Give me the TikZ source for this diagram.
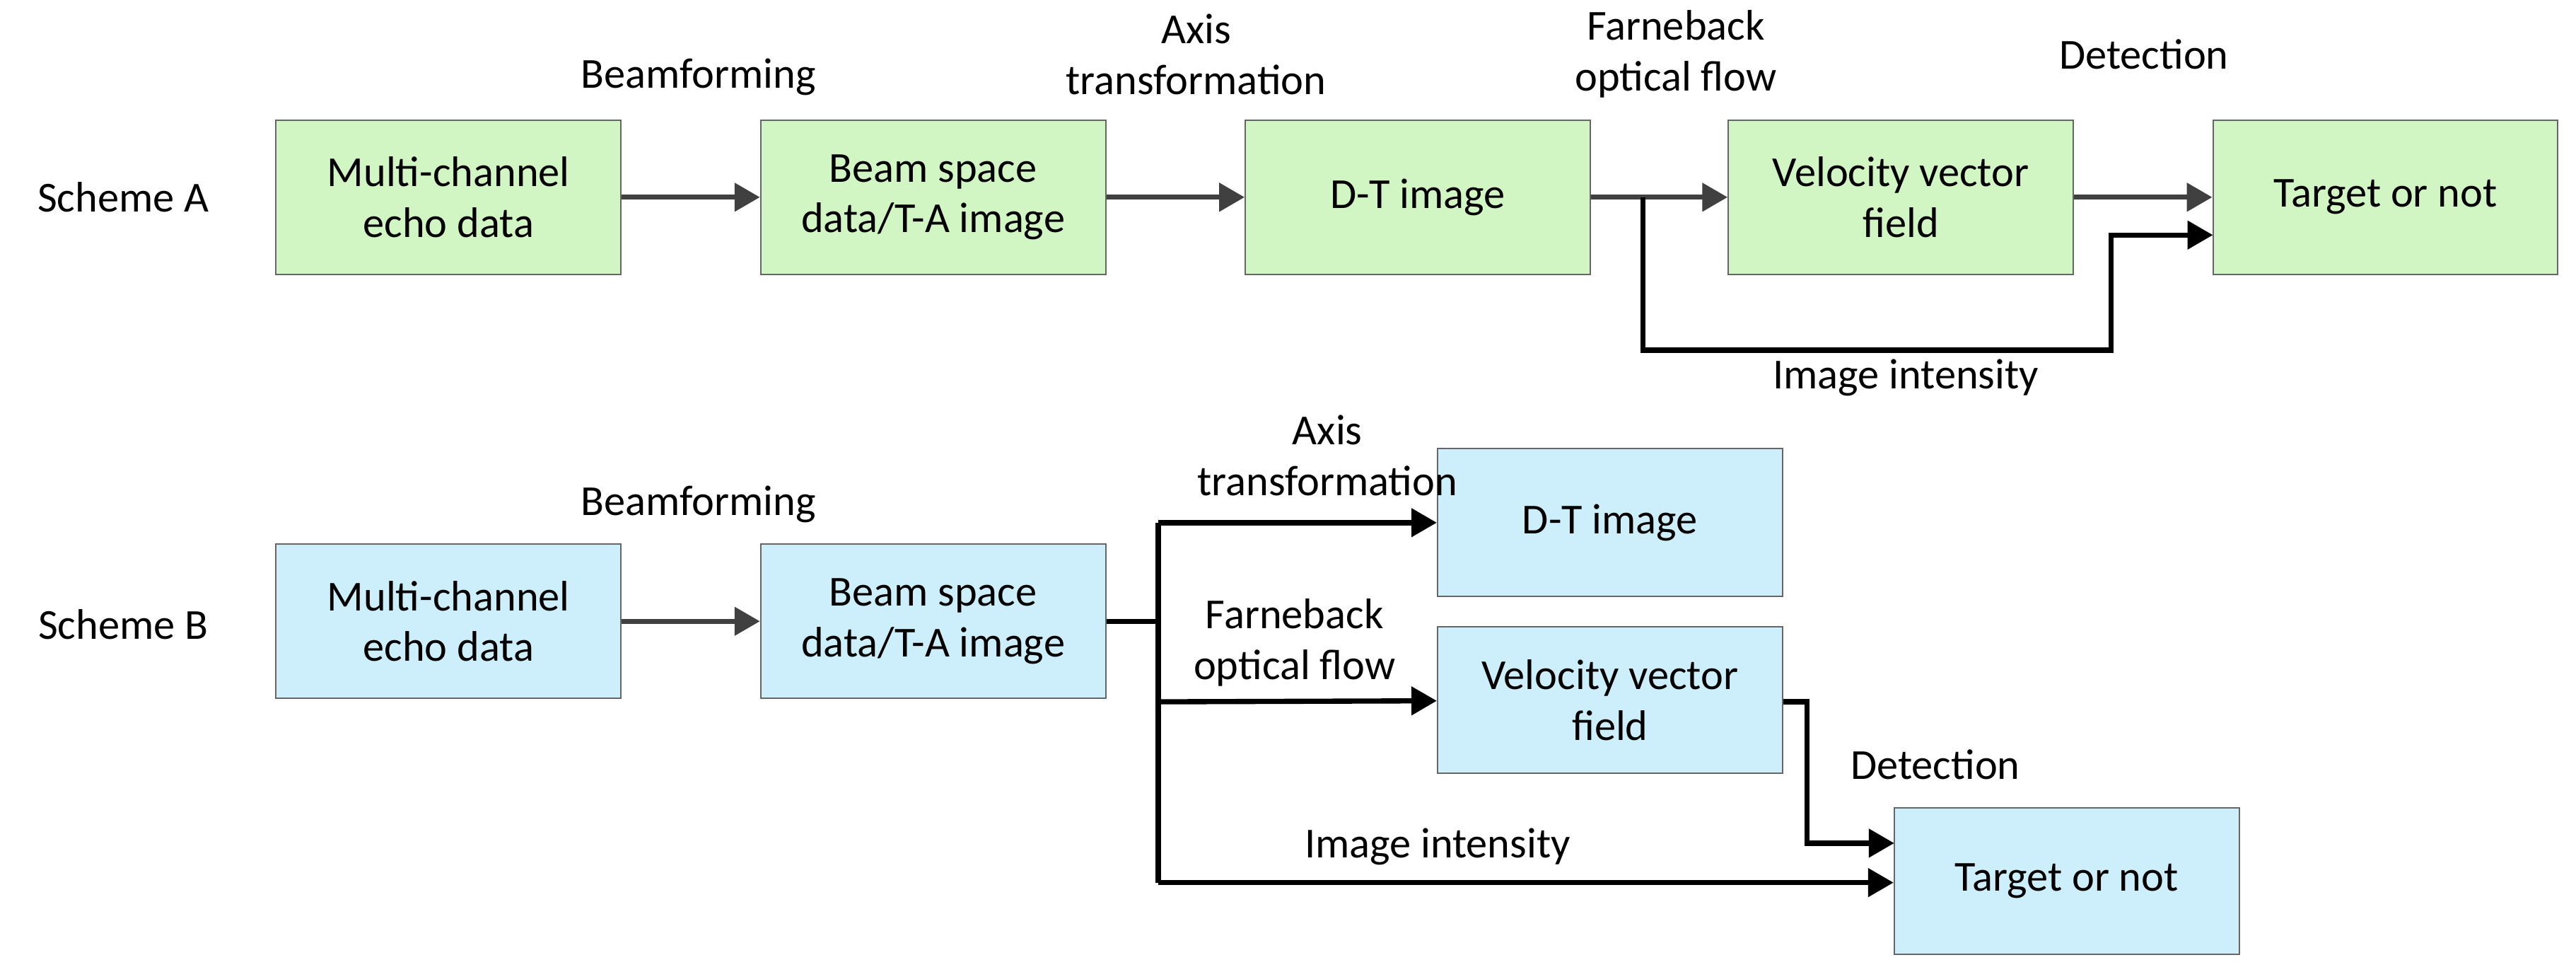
\documentclass[tikz,border=0pt]{standalone}
\usepackage{fontspec}
\setmainfont{Carlito}
\usetikzlibrary{arrows.meta}
\begin{document}
\begin{tikzpicture}[x=0.05cm,y=-0.05cm,
 font=\fontsize{37}{44}\selectfont,
 box/.style={draw=black!60,line width=1.2pt,minimum width=10.5cm,minimum height=4.7cm,align=center,inner sep=0pt},
 ga/.style={draw=black!75,line width=4.5pt,-{Triangle[length=22pt,width=24pt]}},
 ba/.style={draw=black,line width=4.5pt,-{Triangle[length=22pt,width=24pt]}},
 bl/.style={draw=black,line width=4.5pt},
 lb/.style={align=center}]
\useasboundingbox (0,0) rectangle (1568,591);
\colorlet{gr}{green!22!white}
\definecolor{gr}{HTML}{D2F5C4}
\definecolor{bl}{HTML}{CDEEFB}
\node[box,fill=gr] (a1) at (273,120) {Multi-channel\\echo data};
\node[box,fill=gr] (a2) at (568,120) {Beam space\\data/T-A image};
\node[box,fill=gr] (a3) at (863,120) {D-T image};
\node[box,fill=gr] (a4) at (1157,120) {Velocity vector\\field};
\node[box,fill=gr] (a5) at (1452,120) {Target or not};
\node (sa) at (75,120) {Scheme A};
\draw[ga] (a1) -- (a2);
\draw[ga] (a2) -- (a3);
\draw[ga] (a3) -- (a4);
\draw[ga] (a4) -- (a5);
\coordinate (j1) at (1000,120);
\coordinate (j2) at (1000,213);
\coordinate (j3) at (1285,213);
\coordinate (j4) at (1285,143);
\coordinate (e1) at (1347,143);
\draw[ba,line join=miter] (j1) -- (j2) -- (j3) -- (j4) -- (e1);
\node[lb] (l1) at (425,47) {Beamforming};
\node[lb] (l2) at (728,33) {Axis\\transformation};
\node[lb] (l3) at (1020,33) {Farneback\\optical flow};
\node[lb] (l4) at (1305,33) {Detection};
\node[lb] (l5) at (1160,230) {Image intensity};

\node (sb) at (75,380) {Scheme B};
\node[box,fill=bl] (b1) at (273,378) {Multi-channel\\echo data};
\node[box,fill=bl] (b2) at (568,378) {Beam space\\data/T-A image};
\node[box,fill=bl,minimum height=4.5cm] (b3) at (980,318) {D-T image};
\node[box,fill=bl,minimum height=4.45cm] (b4) at (980,426) {Velocity vector\\field};
\node[box,fill=bl,minimum height=4.45cm] (b5) at (1258,536) {Target or not};
\draw[ga] (b1) -- (b2);
\coordinate (k0) at (705,378);
\coordinate (k1) at (705,318);
\coordinate (k2) at (705,537);
\coordinate (k3) at (705,427);
\draw[bl] (b2.east) -- (k0);
\draw[bl] (k1) -- (k2);
\draw[ba] (k1) -- (b3);
\draw[ba] (k3) -- (b4);
\draw[ba] (k2) -- (b5.west|-k2);
\coordinate (m1) at (1100,427);
\coordinate (m2) at (1100,513);
\coordinate (m3) at (1153,513);
\draw[ba] (b4.east|-m1) -- (m1) -- (m2) -- (m3);
\node[lb] (n1) at (425,307) {Beamforming};
\node[lb] (n2) at (808,277) {Axis\\transformation};
\node[lb] (n3) at (788,391) {Farneback\\optical flow};
\node[lb] (n4) at (1178,465) {Detection};
\node[lb] (n5) at (875,515) {Image intensity};
\end{tikzpicture}
\end{document}
